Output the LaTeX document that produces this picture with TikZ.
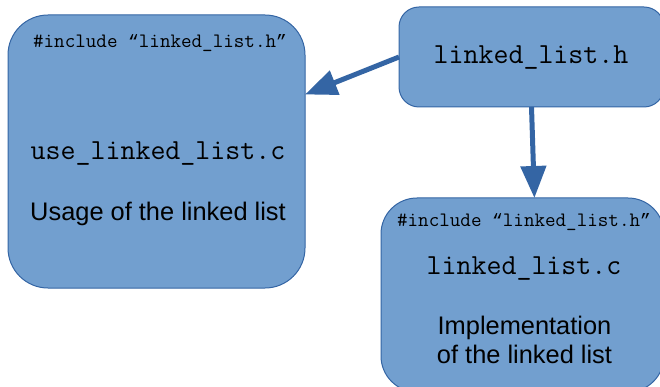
\documentclass[tikz,border=0pt]{standalone}
\usepackage{fontspec}
\setmainfont{Liberation Sans}
\newfontfamily\quotefont{Liberation Mono}
\newcommand{\opnq}{{\quotefont\fontsize{17.9}{20}\selectfont “}}
\newcommand{\clsq}{{\quotefont\fontsize{17.9}{20}\selectfont ”}}
\usetikzlibrary{arrows.meta}

\begin{document}
\begin{tikzpicture}[x=1pt, y=-1pt, >={Triangle[length=32pt, width=25pt]},
  filebox/.style={draw=boxline, fill=boxfill, line width=1pt, inner sep=0pt, outer sep=0pt},
  link/.style={->, draw=boxline, line width=5pt},
  incl/.style={anchor=base, font=\ttfamily\fontsize{20.5}{22}\selectfont},
  fname/.style={anchor=base, font=\ttfamily\fontsize{29.1}{32}\selectfont},
  descr/.style={anchor=base, font=\fontsize{25.4}{28.5}\selectfont, align=center}]
  \definecolor{boxfill}{HTML}{729FCF}
  \definecolor{boxline}{HTML}{3465A4}
  \useasboundingbox (0,0) rectangle (660,387);
  % the three files
  \node [filebox, rounded corners=40pt, minimum width=297pt, minimum height=273pt] (use) at (156.5,151.5) {};
  \node [filebox, rounded corners=20pt, minimum width=265pt, minimum height=100pt] (hdr) at (531.5,57) {};
  \node [filebox, rounded corners=36pt, minimum width=283pt, minimum height=194pt] (impl) at (522.5,295) {};
  % texts
  \node [incl] at (160,48) {\#include \opnq linked\_list.h\clsq};
  \node [fname] at (158,160) {use\_linked\_list.c};
  \node [descr] at (158,220.5) {Usage of the linked list};
  \node [fname] at (531,63.5) {linked\_list.h};
  \node [incl] at (524,226.5) {\#include \opnq linked\_list.h\clsq};
  \node [fname] at (524,274) {linked\_list.c};
  \node [descr] at (524.5,363) {Implementation\\of the linked list};
  % includes
  \draw [link] (hdr.west) -- (use.21.5);
  \draw [link] (hdr.south) -- (impl.83.2);
\end{tikzpicture}
\end{document}
